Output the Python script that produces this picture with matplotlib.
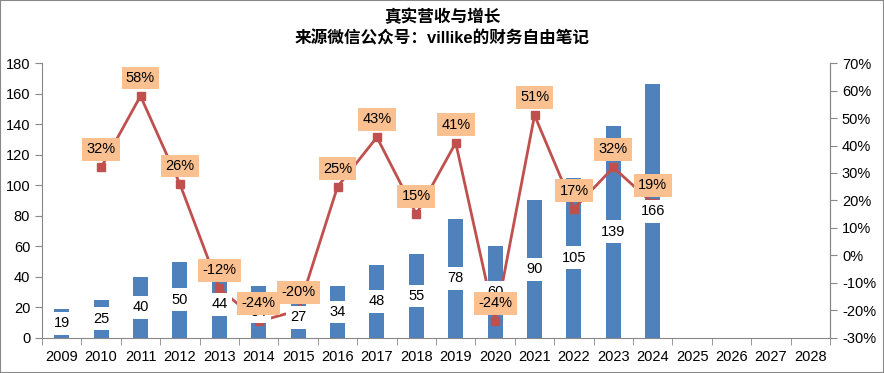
import matplotlib
matplotlib.use("Agg")
import matplotlib.pyplot as plt
from matplotlib.patches import Rectangle

plt.rcParams['font.family'] = ['Liberation Sans', 'Noto Sans CJK SC', 'DejaVu Sans']

# Data
years = [str(y) for y in range(2009, 2029)]
revenue = [19, 25, 40, 50, 44, 34, 27, 34, 48, 55, 78, 60, 90, 105, 139, 166]
growth = [32, 58, 26, -12, -24, -20, 25, 43, 15, 41, -24, 51, 17, 32, 19]  # 2010-2024, %

bar_color = "#4F81BD"
line_color = "#C0504D"
grey = "#888888"

fig = plt.figure(figsize=(8.84, 3.73), dpi=100)
ax1 = fig.add_axes([0.0475, 0.094, 0.8915, 0.737])
ax2 = ax1.twinx()

x_bar = list(range(len(revenue)))
ax1.bar(x_bar, revenue, width=0.38, color=bar_color, zorder=2)
ax1.set_xlim(-0.5, len(years) - 0.5)
ax1.set_ylim(0, 180)
ax1.set_yticks(range(0, 181, 20))

# growth line on right axis
x_line = list(range(1, len(growth) + 1))
ax2.plot(x_line, growth, color=line_color, lw=2, marker="s", ms=6,
         markerfacecolor=line_color, markeredgecolor=line_color, zorder=3)
ax2.set_ylim(-30, 70)
ax2.set_yticks(range(-30, 71, 10))
ax2.set_yticklabels([f"{v}%" for v in range(-30, 71, 10)])

# x ticks: labels at centers, marks at boundaries
ax1.set_xticks(range(len(years)))
ax1.set_xticklabels(years)
ax1.set_xticks([i - 0.5 for i in range(len(years) + 1)], minor=True)
ax1.tick_params(axis="x", which="major", length=0, pad=9)
ax1.tick_params(axis="x", which="minor", length=5, color=grey, direction="out")

for ax in (ax1, ax2):
    ax.spines["top"].set_visible(False)
    for s in ("left", "right", "bottom"):
        ax.spines[s].set_color(grey)
    ax.tick_params(axis="y", length=5, color=grey, labelsize=10.5)
    ax.tick_params(axis="x", labelsize=10.5)
ax2.spines["left"].set_visible(False)
ax2.spines["bottom"].set_visible(False)

# bar value labels (drawn on ax2 so they sit above the line)
for xi, v in zip(x_bar, revenue):
    ax2.text(xi, v / 2, str(v), transform=ax1.transData, ha="center", va="center",
             fontsize=10.5, zorder=4,
             bbox=dict(boxstyle="square,pad=0.3", fc="white", ec="none"))

# growth labels
for xi, g in zip(x_line, growth):
    ax2.annotate(f"{g}%", (xi, g), xytext=(0, 18), textcoords="offset pixels",
                 ha="center", va="center", fontsize=10.5, zorder=5,
                 bbox=dict(boxstyle="square,pad=0.3", fc="#FAC08F", ec="none"))

fig.text(0.5, 1 - 17 / 373, "真实营收与增长", ha="center", va="center",
         fontsize=12, fontweight="bold")
fig.text(0.5, 1 - 38 / 373, "来源微信公众号：villike的财务自由笔记", ha="center",
         va="center", fontsize=12, fontweight="bold")

fig.patches.append(Rectangle((0, 0), 1, 1, transform=fig.transFigure, fill=False,
                             ec=grey, lw=1.5))

fig.savefig("out.png", dpi=100)
